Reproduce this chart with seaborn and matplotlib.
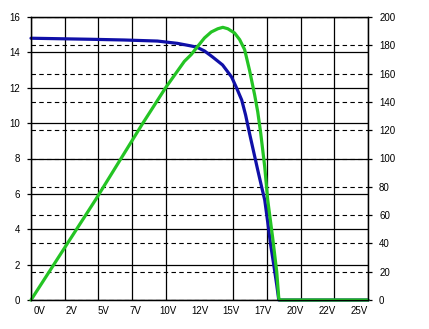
import numpy as np
import seaborn as sns
import matplotlib.pyplot as plt
from matplotlib.ticker import MultipleLocator

# Data
# current curve (left axis, A)
v_current = [0, 4.46, 6.92, 9.38, 10.86, 11.76, 12.28, 12.87, 13.47, 14.21, 14.88,
             15.25, 15.63, 15.92, 16.22, 16.52, 16.82, 17.11, 17.34, 17.56, 17.78,
             18.01, 18.23, 18.38, 25]
current = [14.80, 14.74, 14.70, 14.64, 14.51, 14.38, 14.30, 14.08, 13.74, 13.29, 12.61,
           11.99, 11.31, 10.46, 9.39, 8.37, 7.35, 6.39, 5.65, 4.41, 3.11,
           1.98, 0.85, 0, 0]

# power curve (right axis, W)
v_power = [0, 4.78, 8.26, 9.97, 11.38, 11.88, 12.37, 12.87, 13.37, 13.86, 14.23,
           14.60, 15.10, 15.48, 15.85, 16.22, 16.59, 16.82, 17.04, 17.34, 17.56,
           17.93, 18.23, 18.38, 18.45, 25]
power = [0, 70.7, 124.4, 149.8, 168.7, 173.4, 179.3, 185.2, 189.4, 191.7, 192.7,
         191.7, 188.7, 184.0, 176.9, 162.0, 145.0, 133.0, 118.0, 94.0, 70.7,
         43.8, 19.8, 1.4, 0, 0]

x_labels = ['0V', '2V', '5V', '7V', '10V', '12V', '15V', '17V', '20V', '22V', '25V']

sns.set_theme(style="white")
plt.rcParams['font.family'] = ['Liberation Sans', 'DejaVu Sans']

fig = plt.figure(figsize=(4.29, 3.29), dpi=100)
ax = fig.add_axes([31/429, 1 - 300/329, 337/429, 283/329])
ax2 = ax.twinx()

# left axis on top so both curves sit above all grid lines
ax.set_zorder(2)
ax2.set_zorder(1)
ax.patch.set_visible(False)

ax.set_xlim(0, 25)
ax.set_ylim(0, 16)
ax2.set_ylim(0, 200)

# solid grid: verticals every 2.5 V, horizontals on the left ticks
ax.xaxis.set_minor_locator(MultipleLocator(2.5))
ax.grid(which='minor', axis='x', color='black', lw=0.9)
ax.yaxis.set_major_locator(MultipleLocator(2))
ax.grid(which='major', axis='y', color='black', lw=0.9)
ax.grid(which='major', axis='x', visible=False)

# dashed grid on the right ticks
ax2.yaxis.set_major_locator(MultipleLocator(20))
ax2.grid(which='major', axis='y', color='black', lw=0.8, linestyle=(0, (4, 3)))

# x labels are spread slightly inside the outer grid lines
ax.set_xticks(np.linspace(0.67, 24.33, 11))
ax.set_xticklabels(x_labels)

sns.lineplot(x=v_current, y=current, ax=ax, color='#1010a8', lw=2.3,
             estimator=None, sort=False, clip_on=False)
sns.lineplot(x=v_power, y=power, ax=ax, color='#24c424', lw=2.3,
             estimator=None, sort=False, clip_on=False, transform=ax2.transData)

ax.tick_params(axis='x', which='both', length=0, pad=4, labelsize=7, colors='black')
ax.tick_params(axis='y', length=3, width=0.9, pad=5, labelsize=7, colors='black', left=True)
ax2.tick_params(axis='y', length=3, width=0.9, pad=5, labelsize=7, colors='black', right=True)

for a in (ax, ax2):
    for s in a.spines.values():
        s.set_color('black')
        s.set_linewidth(0.9)

fig.savefig('out.png', dpi=100, facecolor='white')
